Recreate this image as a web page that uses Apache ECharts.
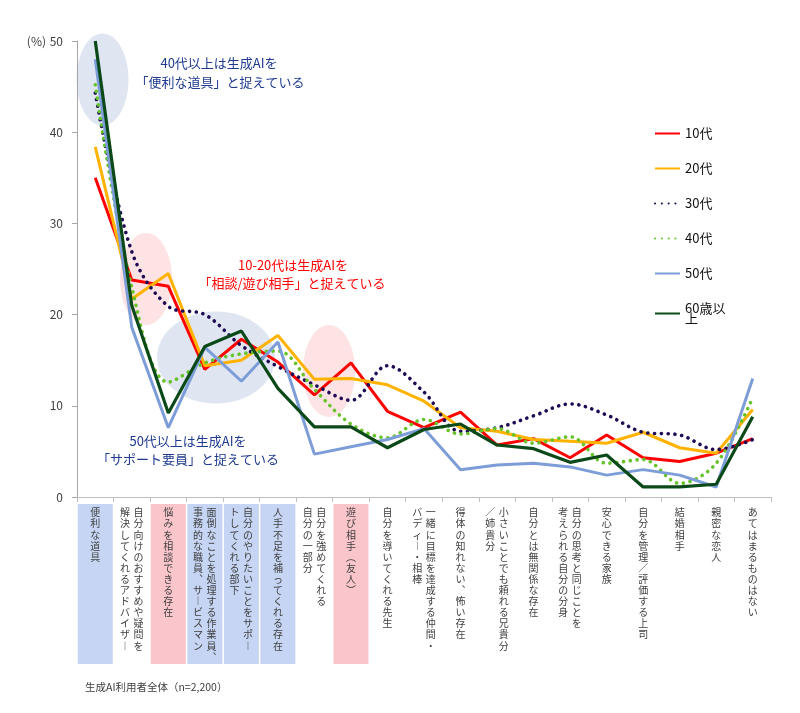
<!DOCTYPE html>
<html><head><meta charset="utf-8">
<script src="https://cdn.jsdelivr.net/npm/echarts@6/dist/echarts.min.js"></script>
<style>html,body{margin:0;padding:0;background:#fff}#c{width:800px;height:713px}</style>
</head><body><div id="c"></div>
<script>
// Categories ("\n" marks a new vertical column, read right to left)
const categories = [
  '便利な道具',
  '自分向けのおすすめや疑問を\n解決してくれるアドバイザー',
  '悩みを相談できる存在',
  '面倒なことを処理する作業員、\n事務的な職員、サービスマン',
  '自分のやりたいことをサポー\nトしてくれる部下',
  '人手不足を補ってくれる存在',
  '自分を強めてくれる\n自分の一部分',
  '遊び相手（友人）',
  '自分を導いてくれる先生',
  '一緒に目標を達成する仲間・\nバディー・相棒',
  '得体の知れない、怖い存在',
  '小さいことでも頼れる兄貴分\n／姉貴分',
  '自分とは無関係な存在',
  '自分の思考と同じことを\n考えられる自分の分身',
  '安心できる家族',
  '自分を管理／評価する上司',
  '結婚相手',
  '親密な恋人',
  'あてはまるものはない'
];
// highlight boxes behind category labels: 'b' = blue, 'p' = pink
const highlight = ['b', '', 'p', 'b', 'b', 'b', '', 'p', '', '', '', '', '', '', '', '', '', '', ''];

const seriesNames = ['10代', '20代', '30代', '40代', '50代', '60歳以上'];
const v10 = [35.0, 23.8, 23.1, 14.0, 17.3, 14.8, 11.2, 14.7, 9.4, 7.6, 9.3, 5.7, 6.4, 4.3, 6.8, 4.3, 3.9, 4.8, 6.4];
const v20 = [38.4, 21.7, 24.5, 14.4, 15.0, 17.7, 12.9, 13.0, 12.3, 10.5, 7.6, 7.2, 6.3, 6.1, 5.9, 7.1, 5.4, 4.8, 9.6];
const v30 = [44.3, 26.9, 20.9, 20.0, 16.6, 14.3, 12.3, 10.6, 14.4, 11.5, 7.2, 7.6, 8.9, 10.2, 9.0, 7.1, 6.8, 5.2, 6.3];
const v40 = [45.2, 23.0, 12.6, 14.7, 15.7, 16.0, 11.8, 8.0, 6.5, 8.5, 6.9, 7.5, 5.9, 6.6, 3.7, 4.1, 1.5, 3.7, 10.9];
const v50 = [48.0, 18.6, 7.6, 16.4, 12.7, 17.0, 4.7, 5.5, 6.3, 7.5, 3.0, 3.5, 3.7, 3.3, 2.4, 3.0, 2.4, 1.1, 13.0];
const v60 = [50.0, 21.0, 9.2, 16.5, 18.2, 11.9, 7.7, 7.7, 5.4, 7.4, 8.0, 5.7, 5.3, 3.8, 4.6, 1.1, 1.1, 1.4, 8.8];

const yMin = 0, yMax = 50, yStep = 10;

const FONT = '"Noto Sans CJK JP", "Noto Sans", sans-serif';
const vmap = {'ー': '︱', '、': '︑', '（': '︵', '）': '︶'};
function vertical(name) {
  const cols = name.split('\n').map(s => Array.from(s).map(ch => vmap[ch] || ch));
  const n = Math.max(...cols.map(c => c.length));
  const lines = [];
  for (let i = 0; i < n; i++) {
    let line = '';
    for (let c = cols.length - 1; c >= 0; c--) line += '{c|' + (cols[c][i] || '　') + '}';
    lines.push(line);
  }
  return lines.join('\n');
}
const boxColor = {b: '#c5d5f3', p: '#fbc6cb'};
const xData = categories.map((name, i) => ({
  value: name,
  textStyle: highlight[i]
    ? {backgroundColor: boxColor[highlight[i]], width: 35, height: 154, padding: [3, 0, 3, 0]}
    : {padding: [3, 0, 3, 0]}
}));

const dotted = {type: [0.1, 6.7], cap: 'round', width: 3.6};
const series = [
  {name: seriesNames[0], data: v10, lineStyle: {color: '#ff0000', width: 3}, itemStyle: {color: '#ff0000'}},
  {name: seriesNames[1], data: v20, lineStyle: {color: '#ffb300', width: 3}, itemStyle: {color: '#ffb300'}},
  {name: seriesNames[2], data: v30, smooth: 0.35, lineStyle: Object.assign({color: '#1e0b54'}, dotted), itemStyle: {color: '#1e0b54'}},
  {name: seriesNames[3], data: v40, smooth: 0.35, lineStyle: Object.assign({color: '#66c42a'}, dotted), itemStyle: {color: '#66c42a'}},
  {name: seriesNames[4], data: v50, lineStyle: {color: '#7d9dd8', width: 3}, itemStyle: {color: '#7d9dd8'}},
  {name: seriesNames[5], data: v60, lineStyle: {color: '#0b4a18', width: 3.2}, itemStyle: {color: '#0b4a18'}}
].map(s => Object.assign({type: 'line', symbol: 'none', z: 3}, s));

const navy = '#1f3a8f';
const chart = echarts.init(document.getElementById('c'));
chart.setOption({
  animation: false,
  backgroundColor: '#fff',
  textStyle: {fontFamily: FONT},
  grid: {left: 77, right: 29, top: 41, bottom: 216, containLabel: false},
  legend: {
    orient: 'vertical', left: 649, top: 122,
    itemWidth: 25, itemHeight: 14, itemGap: 22,
    itemStyle: {opacity: 0},
    textStyle: {fontSize: 13, color: '#111', fontFamily: FONT, lineHeight: 10},
    formatter: n => n === '60歳以上' ? '60歳以\n上' : n,
    data: seriesNames
  },
  xAxis: {
    type: 'category', data: xData, boundaryGap: true,
    axisLine: {lineStyle: {color: '#bfbfbf', width: 1}},
    axisTick: {show: true, length: 5, lineStyle: {color: '#bfbfbf'}},
    axisLabel: {
      interval: 0, margin: 7, verticalAlign: 'top', color: '#404040',
      hideOverlap: false,
      formatter: vertical,
      rich: {c: {width: 13.5, align: 'center', lineHeight: 11.1, fontSize: 10, color: '#404040', fontFamily: FONT}}
    }
  },
  yAxis: {
    type: 'value', min: yMin, max: yMax, interval: yStep,
    axisLine: {show: true, lineStyle: {color: '#a6a6a6'}},
    axisTick: {show: true, length: 5, lineStyle: {color: '#a6a6a6'}},
    axisLabel: {color: '#404040', fontSize: 12, margin: 14},
    splitLine: {show: false}
  },
  graphic: [
    {type: 'ellipse', z: -10, shape: {cx: 102.5, cy: 79.5, rx: 26, ry: 46}, style: {fill: '#dfe6f1'}},
    {type: 'ellipse', z: -10, shape: {cx: 146, cy: 279, rx: 26, ry: 46}, style: {fill: '#fde3e4'}},
    {type: 'ellipse', z: -10, shape: {cx: 216, cy: 357.5, rx: 59, ry: 46}, style: {fill: '#dfe6f1'}},
    {type: 'ellipse', z: -10, shape: {cx: 329, cy: 371, rx: 26, ry: 46}, style: {fill: '#fde3e4'}},
    {type: 'text', z: 10, x: 46, y: 41, style: {text: '(%)', fill: '#404040', font: '12px ' + FONT, textAlign: 'right', textVerticalAlign: 'middle'}},
    {type: 'text', z: 10, x: 219, y: 63, style: {text: '40代以上は生成AIを', fill: navy, font: '13px ' + FONT, textAlign: 'center', textVerticalAlign: 'middle'}},
    {type: 'text', z: 10, x: 220, y: 82, style: {text: '「便利な道具」と捉えている', fill: navy, font: '13px ' + FONT, textAlign: 'center', textVerticalAlign: 'middle'}},
    {type: 'text', z: 10, x: 293, y: 265, style: {text: '10-20代は生成AIを', fill: '#ff0000', font: '13px ' + FONT, textAlign: 'center', textVerticalAlign: 'middle'}},
    {type: 'text', z: 10, x: 292, y: 283, style: {text: '「相談/遊び相手」と捉えている', fill: '#ff0000', font: '13px ' + FONT, textAlign: 'center', textVerticalAlign: 'middle'}},
    {type: 'text', z: 10, x: 188, y: 441, style: {text: '50代以上は生成AIを', fill: navy, font: '13px ' + FONT, textAlign: 'center', textVerticalAlign: 'middle'}},
    {type: 'text', z: 10, x: 188, y: 459, style: {text: '「サポート要員」と捉えている', fill: navy, font: '13px ' + FONT, textAlign: 'center', textVerticalAlign: 'middle'}},
    {type: 'text', z: 10, x: 85, y: 687, style: {text: '生成AI利用者全体（n=2,200）', fill: '#404040', font: '10.5px ' + FONT, textAlign: 'left', textVerticalAlign: 'middle'}}
  ],
  series: series
});
</script></body></html>
